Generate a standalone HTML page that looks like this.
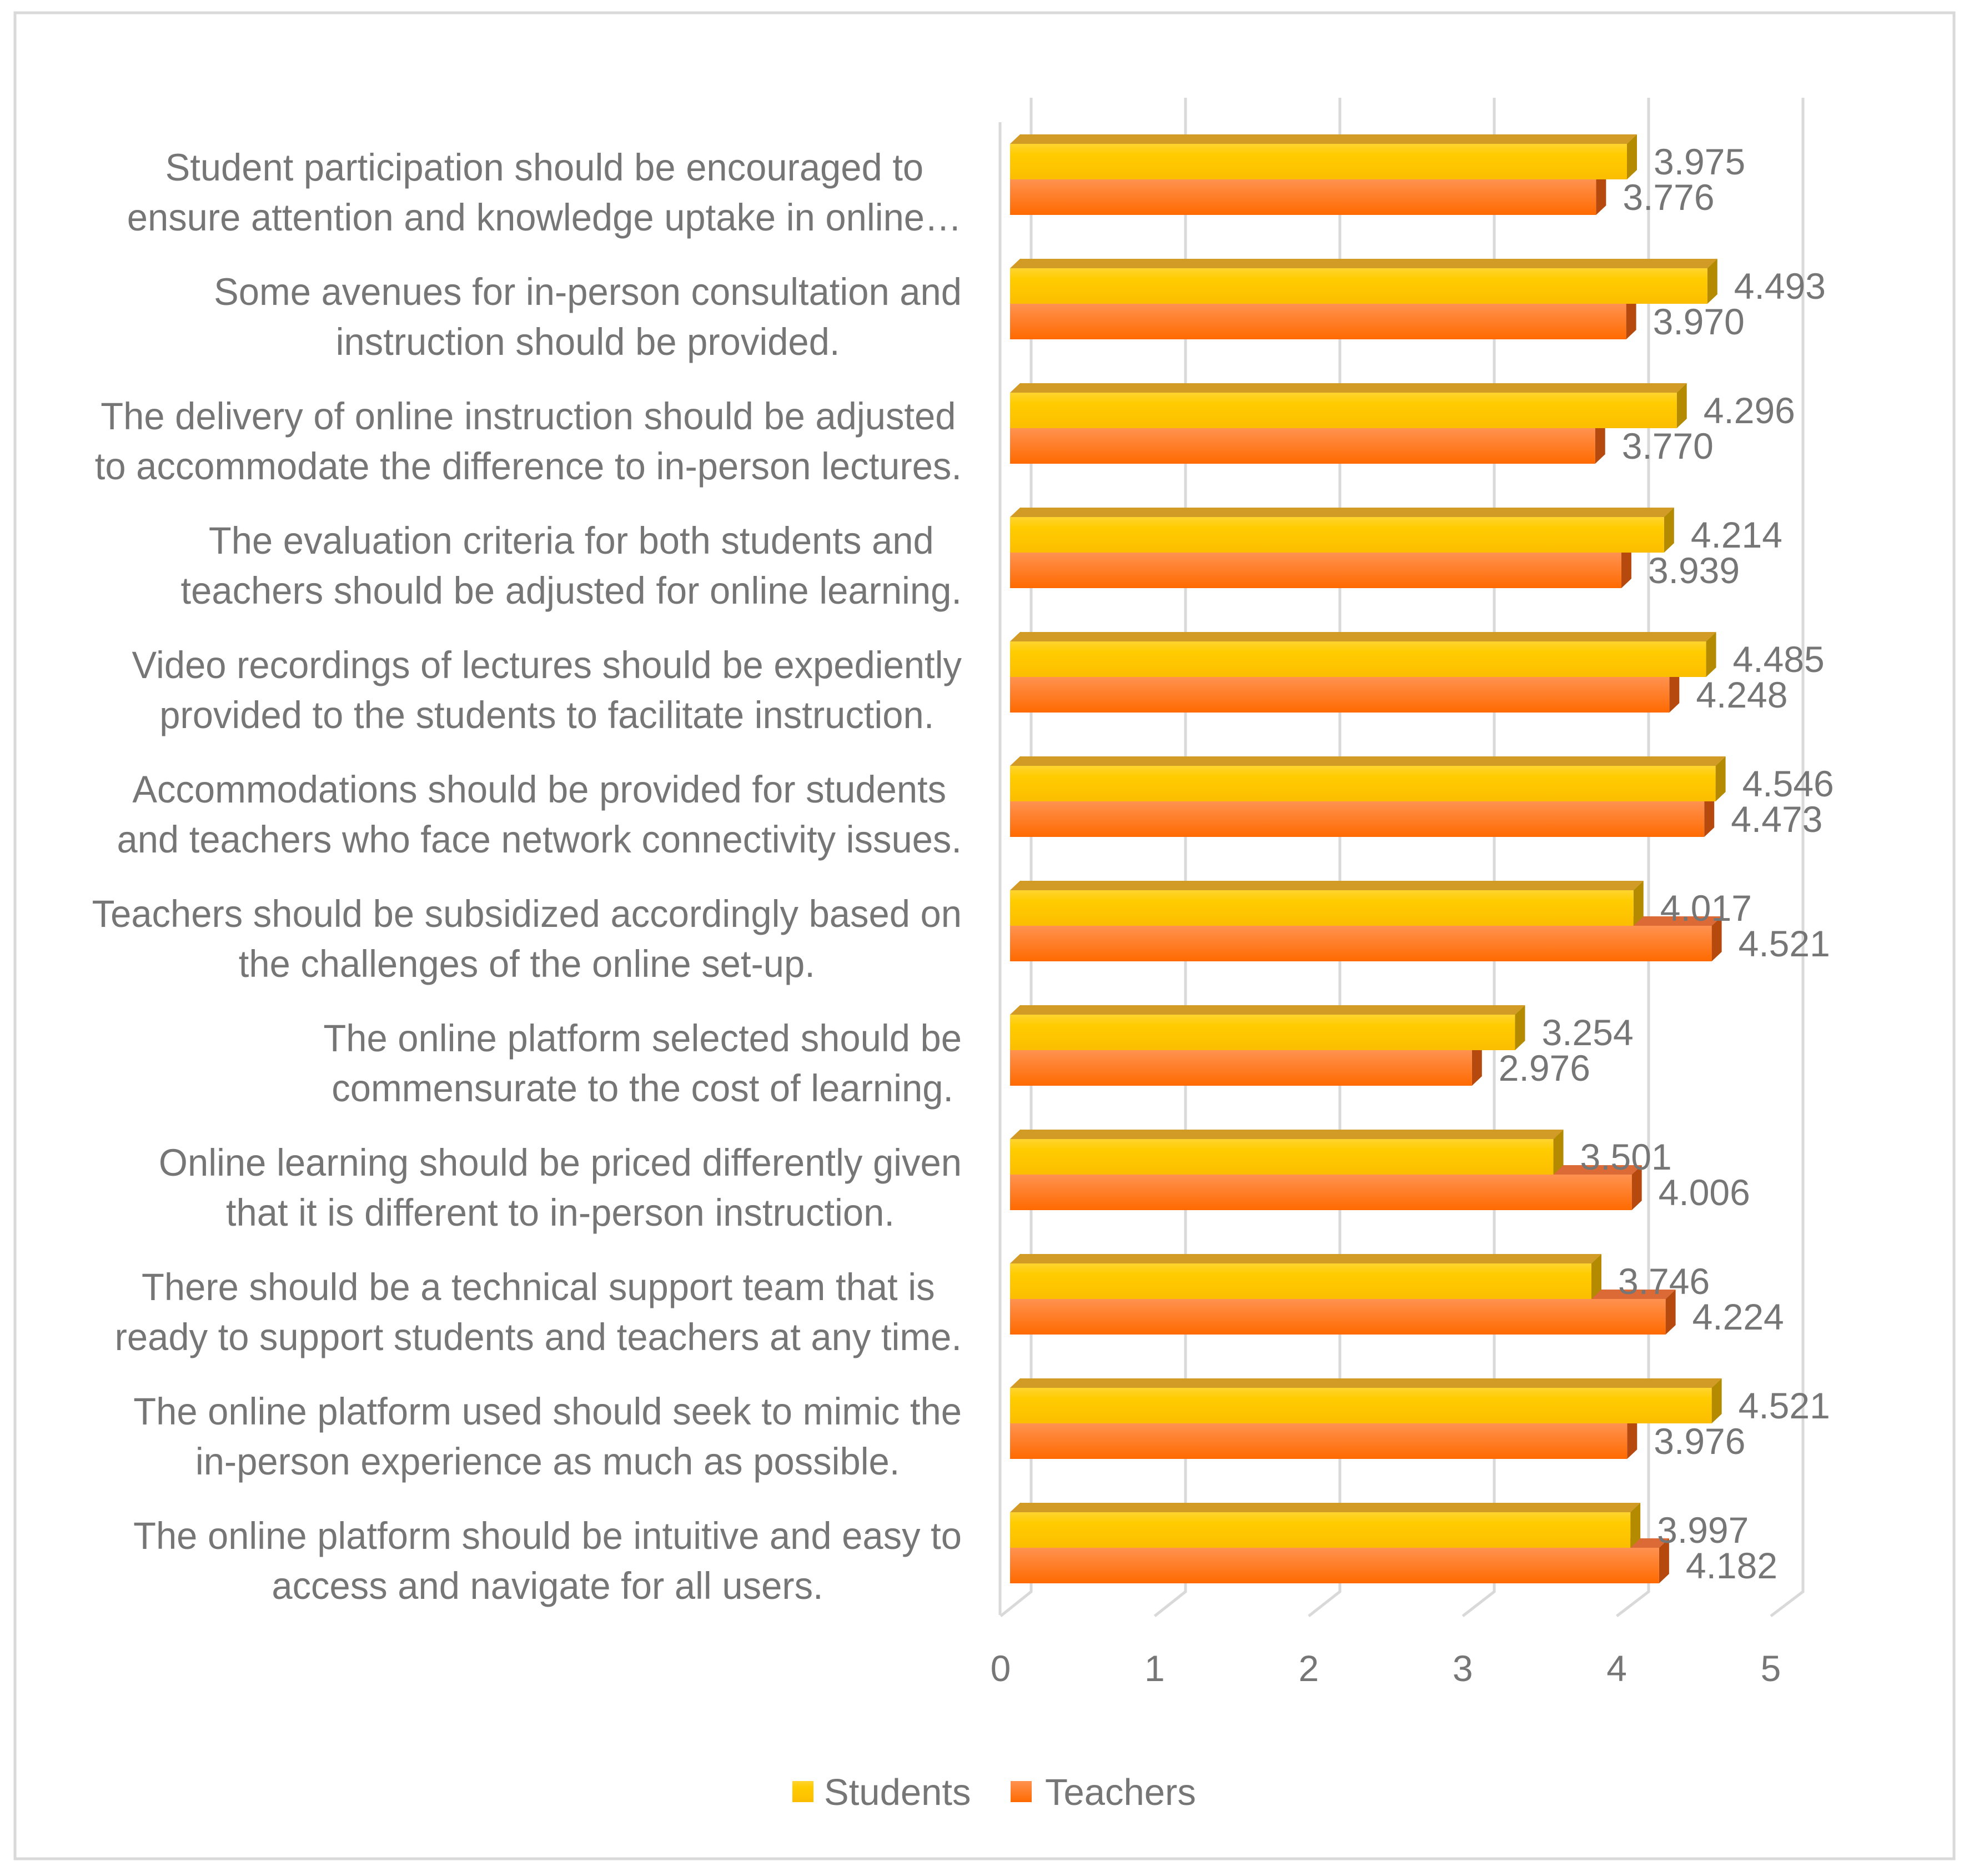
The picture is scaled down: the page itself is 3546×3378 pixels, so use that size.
<!DOCTYPE html>
<html><head><meta charset="utf-8">
<style>
html,body{margin:0;padding:0;background:#fff;}
svg{display:block;}
text{font-family:"Liberation Sans",sans-serif;fill:#767676;}
</style></head>
<body>
<svg id="chart" width="3546" height="3378" viewBox="0 0 3546 3378" xmlns="http://www.w3.org/2000/svg">
<defs>
<linearGradient id="gS" x1="0" y1="0" x2="0" y2="1"><stop offset="0" stop-color="#ffd430"/><stop offset="0.3" stop-color="#ffcc00"/><stop offset="1" stop-color="#fcbd00"/></linearGradient>
<linearGradient id="gT" x1="0" y1="0" x2="0" y2="1"><stop offset="0" stop-color="#ff9250"/><stop offset="1" stop-color="#ff6a00"/></linearGradient>
</defs>
<rect x="27" y="23" width="3492" height="3324" fill="#fff" stroke="#d9d9d9" stroke-width="5"/>
<g id="grid"></g>
<g id="labels"></g>
<g id="bars"></g>
<g id="vals"></g>
<g id="ticks"></g>
<g id="legend">
<rect x="1427" y="3207" width="38" height="38" fill="url(#gS)"/>
<text x="1484" y="3250" font-size="67">Students</text>
<rect x="1820" y="3207" width="38" height="38" fill="url(#gT)"/>
<text x="1882" y="3250" font-size="67">Teachers</text>
</g>
</svg>
<script>
const categories = [
 ["Student participation should be encouraged to","ensure attention and knowledge uptake in online\u2026"],
 ["Some avenues for in-person consultation and","instruction should be provided."],
 ["The delivery of online instruction should be adjusted","to accommodate the difference to in-person lectures."],
 ["The evaluation criteria for both students and","teachers should be adjusted for online learning."],
 ["Video recordings of lectures should be expediently","provided to the students to facilitate instruction."],
 ["Accommodations should be provided for students","and teachers who face network connectivity issues."],
 ["Teachers should be subsidized accordingly based on","the challenges of the online set-up."],
 ["The online platform selected should be","commensurate to the cost of learning."],
 ["Online learning should be priced differently given","that it is different to in-person instruction."],
 ["There should be a technical support team that is","ready to support students and teachers at any time."],
 ["The online platform used should seek to mimic the","in-person experience as much as possible."],
 ["The online platform should be intuitive and easy to","access and navigate for all users."]
];
const students = [3.975,4.493,4.296,4.214,4.485,4.546,4.017,3.254,3.501,3.746,4.521,3.997];
const teachers = [3.776,3.970,3.770,3.939,4.248,4.473,4.521,2.976,4.006,4.224,3.976,4.182];
const tickValues = [0,1,2,3,4,5];

const NS="http://www.w3.org/2000/svg";
function mk(tag,attrs,parent){const e=document.createElementNS(NS,tag);for(const k in attrs)e.setAttribute(k,attrs[k]);parent.appendChild(e);return e;}
const xBar = v => 1819 + 279.5*v;
const xBack = v => 1857 + 278*v;
const xFront = v => 1802 + 277.4*v;
const yGroup = i => 259 + 224*i;
const BH = 64, DX = 18, DY = 17;

const grid=document.getElementById('grid');
let lw=mk('line',{x1:1801,y1:220,x2:1801,y2:2908,stroke:'#d9d9d9','stroke-width':5},grid);


tickValues.forEach(t=>{
  const g=mk('polyline',{points:`${xBack(t)},176 ${xBack(t)},2866 ${xFront(t)},2910`,fill:'none',stroke:'#d9d9d9','stroke-width':5},grid);
  
  
  const tl=mk('text',{x:xFront(t),y:3027,'font-size':66,'text-anchor':'middle'},document.getElementById('ticks'));
  tl.textContent=String(t);
  
  
});

const bars=document.getElementById('bars'), vals=document.getElementById('vals'), labels=document.getElementById('labels');
function bar3d(y,v,front,top,side,name){
  const g=mk('g',{},bars);
  
  
  const x0=xBar(0), x1=xBar(v);
  mk('polygon',{points:`${x0},${y} ${x0+DX},${y-DY} ${x1+DX},${y-DY} ${x1},${y}`,fill:top},g);
  mk('polygon',{points:`${x1},${y} ${x1+DX},${y-DY} ${x1+DX},${y+BH-DY} ${x1},${y+BH}`,fill:side},g);
  mk('rect',{x:x0,y:y,width:x1-x0,height:BH,fill:front},g);
}
function valLabel(y,v,name){
  const t=mk('text',{x:xBar(v)+DX+30,y:y+BH/2+23,'font-size':66},vals);
  t.textContent=v.toFixed(3);
  
  
}
categories.forEach((lines,i)=>{
  const y=yGroup(i);
  bar3d(y+BH,teachers[i],'url(#gT)','#dc6a36','#b5490e','bar-teachers-'+(i+1));
  bar3d(y,students[i],'url(#gS)','#d19b26','#b38a00','bar-students-'+(i+1));
  valLabel(y,students[i],'value-students-'+(i+1));
  valLabel(y+BH,teachers[i],'value-teachers-'+(i+1));
  const g=mk('g',{},labels);
  
  
  const SX=0.97, cy=y+87;
  const els=lines.map((ln,j)=>{
    const t=mk('text',{'font-size':69,'text-anchor':'middle'},g);
    t.textContent=ln; return t;
  });
  const widths=els.map(e=>e.getComputedTextLength()*SX);
  const w=Math.max(...widths);
  const cx=1732-w/2;
  els.forEach((e,j)=>{
    const ty=cy-45+90*j+24;
    e.setAttribute('transform',`translate(${cx},${ty}) scale(${SX},1)`);
  });
});
</script>
</body></html>
